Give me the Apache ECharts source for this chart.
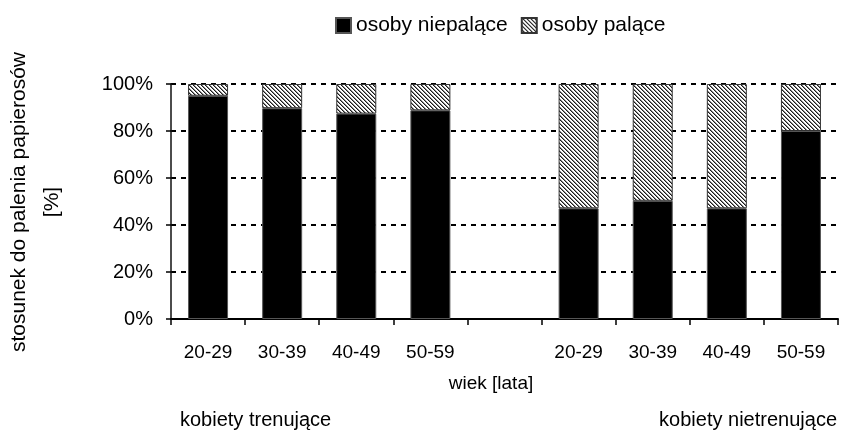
<!DOCTYPE html>
<html>
<head>
<meta charset="utf-8">
<script src="https://cdn.jsdelivr.net/npm/echarts@6/dist/echarts.min.js"></script>
<style>
  html, body { margin: 0; padding: 0; background: #fff; }
  #chart { width: 845px; height: 434px; }
</style>
</head>
<body>
<div id="chart"></div>
<script>
// age groups: trained women, gap, untrained women
const categories = ["20-29", "30-39", "40-49", "50-59", "", "20-29", "30-39", "40-49", "50-59"];
const niepalace = [95, 89.7, 87.4, 88.8, null, 47.1, 50.3, 47.1, 80];
const palace = [5, 10.3, 12.6, 11.2, null, 52.9, 49.7, 52.9, 20];
const yTicks = [0, 20, 40, 60, 80, 100];

const FONT = "'Liberation Sans', Arial, sans-serif";

// hatch pattern "\\\\"
const makeHatch = () => {
  const c = document.createElement("canvas");
  c.width = 4;
  c.height = 4;
  const ctx = c.getContext("2d");
  ctx.fillStyle = "#fff";
  ctx.fillRect(0, 0, 4, 4);
  for (let x = 0; x < 4; x++) {
    for (let y = 0; y < 4; y++) {
      const d = (x - y + 8) % 4;
      if (d === 0) {
        ctx.fillStyle = "#1a1a1a";
        ctx.fillRect(x, y, 1, 1);
      } else if (d === 1) {
        ctx.fillStyle = "#8a8a8a";
        ctx.fillRect(x, y, 1, 1);
      }
    }
  }
  return c;
};

const chart = echarts.init(document.getElementById("chart"), null, { renderer: "canvas" });

const option = {
  animation: false,
  backgroundColor: "#fff",
  textStyle: { fontFamily: FONT, color: "#000" },
  legend: {
    left: 335,
    top: 15,
    padding: 0,
    icon: "rect",
    itemWidth: 15,
    itemHeight: 15,
    itemGap: 13,
    textStyle: { fontSize: 21, color: "#000", fontFamily: FONT },
    data: ["osoby niepalące", "osoby palące"],
  },
  grid: {
    left: 171,
    right: 7,
    top: 84,
    bottom: 115,
    containLabel: false,
  },
  xAxis: {
    type: "category",
    data: categories,
    axisLine: { lineStyle: { color: "#000", width: 2 } },
    axisTick: { show: true, length: 6, inside: false, lineStyle: { color: "#000", width: 1.5 } },
    axisLabel: { interval: 0, margin: 24, fontSize: 19, color: "#000", fontFamily: FONT },
    splitLine: { show: false },
  },
  yAxis: {
    type: "value",
    min: yTicks[0],
    max: yTicks[yTicks.length - 1],
    interval: 20,
    axisLine: { show: true, lineStyle: { color: "#111", width: 1.5 } },
    axisTick: { show: true, length: 5, lineStyle: { color: "#000", width: 1.5 } },
    axisLabel: {
      formatter: "{value}%",
      margin: 18,
      fontSize: 20,
      color: "#000",
      fontFamily: FONT,
    },
    splitLine: {
      show: true,
      lineStyle: { color: "#000", width: 2, type: [5, 5] },
    },
  },
  graphic: [
    {
      type: "text",
      x: 36,
      y: 202,
      rotation: Math.PI / 2,
      style: {
        text: "stosunek do palenia papierosów\n[%]",
        fontSize: 21,
        fontFamily: FONT,
        fill: "#000",
        align: "center",
        verticalAlign: "middle",
        lineHeight: 33,
      },
    },
    {
      type: "text",
      x: 491,
      y: 384,
      style: {
        text: "wiek [lata]",
        fontSize: 19,
        fontFamily: FONT,
        fill: "#000",
        align: "center",
        verticalAlign: "middle",
      },
    },
    {
      type: "text",
      x: 180,
      y: 420,
      style: {
        text: "kobiety trenujące",
        fontSize: 20,
        fontFamily: FONT,
        fill: "#000",
        align: "left",
        verticalAlign: "middle",
      },
    },
    {
      type: "text",
      x: 837,
      y: 420,
      style: {
        text: "kobiety nietrenujące",
        fontSize: 20,
        fontFamily: FONT,
        fill: "#000",
        align: "right",
        verticalAlign: "middle",
      },
    },
  ],
  series: [
    {
      name: "osoby niepalące",
      type: "bar",
      stack: "total",
      barWidth: 40,
      itemStyle: { color: "#000", borderColor: "#555", borderWidth: 1 },
      data: niepalace,
    },
    {
      name: "osoby palące",
      type: "bar",
      stack: "total",
      barWidth: 40,
      itemStyle: {
        color: { image: makeHatch(), repeat: "repeat" },
        borderColor: "#333",
        borderWidth: 1,
      },
      data: palace,
    },
  ],
};

chart.setOption(option);
</script>
</body>
</html>
